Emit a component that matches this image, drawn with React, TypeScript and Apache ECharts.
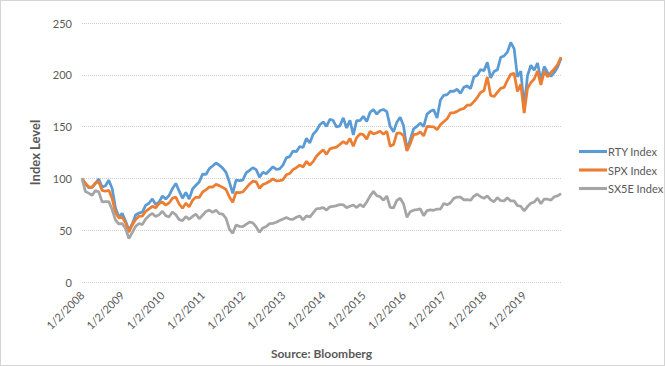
import React, { useEffect, useRef } from "react";
import * as echarts from "echarts";

const years = [2008, 2009, 2010, 2011, 2012, 2013, 2014, 2015, 2016, 2017, 2018, 2019];

const seriesNames = ["RTY Index", "SPX Index", "SX5E Index"];
const seriesColors = ["#5B9BD5", "#ED7D31", "#A5A5A5"];

// monthly readings, one row per year (12 values each)
const rty = [
  100, 94.7, 91.1, 91.4, 95.0, 99.5, 91.6, 92.9, 98.2, 90.2, 71.4, 62.8,
  66.3, 58.9, 50.0, 56.1, 64.7, 66.6, 67.5, 73.9, 76.0, 80.2, 74.7, 77.0,
  83.1, 80.0, 83.5, 90.1, 95.2, 87.9, 80.9, 86.4, 80.0, 89.8, 93.4, 96.5,
  104.1, 103.8, 109.4, 112.0, 114.9, 112.7, 109.9, 105.8, 96.5, 85.5, 98.4, 97.9,
  98.4, 105.3, 107.7, 110.3, 108.5, 101.2, 106.0, 104.5, 107.8, 111.2, 108.7, 109.2,
  112.8, 119.8, 121.0, 126.4, 125.8, 130.7, 129.8, 138.8, 134.2, 142.6, 146.1, 151.8,
  154.5, 150.2, 157.1, 155.8, 149.6, 150.7, 158.4, 148.7, 156.0, 142.0, 155.8, 155.8,
  160.0, 154.8, 163.8, 166.4, 162.0, 165.5, 166.5, 164.5, 150.0, 145.0, 154.3, 159.1,
  150.8, 128.0, 137.3, 147.9, 150.2, 153.4, 150.0, 162.0, 164.7, 166.2, 158.2, 175.6,
  180.2, 180.9, 184.2, 184.1, 186.0, 182.0, 188.0, 189.3, 186.6, 198.0, 199.6, 205.1,
  203.9, 212.0, 197.0, 203.1, 204.8, 216.9, 218.2, 221.9, 231.2, 225.3, 198.0, 203.6,
  168.5, 199.1, 209.2, 204.5, 211.3, 194.6, 208.0, 202.0, 198.5, 202.3, 207.5, 215.7,
];

const spx = [
  100, 95.3, 91.9, 91.4, 95.7, 96.8, 88.4, 87.6, 88.6, 80.6, 66.9, 61.9,
  62.4, 57.1, 48.0, 55.1, 60.3, 63.5, 63.5, 68.2, 70.5, 73.0, 71.6, 75.7,
  77.1, 74.2, 76.3, 80.8, 82.0, 75.3, 71.2, 76.1, 72.5, 78.9, 81.8, 81.6,
  86.9, 88.9, 91.7, 91.6, 94.2, 93.0, 91.3, 89.3, 82.0, 77.0, 86.6, 86.2,
  86.9, 90.7, 94.4, 97.3, 96.6, 90.5, 94.1, 95.3, 97.2, 99.6, 97.6, 97.9,
  98.6, 103.5, 104.7, 108.4, 110.4, 112.7, 111.0, 116.5, 112.8, 116.2, 121.4, 124.8,
  127.7, 123.2, 128.5, 129.4, 130.2, 132.9, 135.5, 133.4, 138.4, 131.0, 139.4, 142.9,
  142.3, 137.9, 145.4, 142.9, 144.1, 145.6, 142.6, 145.4, 131.0, 132.7, 143.7, 143.8,
  141.2, 126.5, 133.5, 142.3, 142.7, 144.9, 141.0, 150.2, 150.0, 149.8, 146.9, 151.9,
  154.7, 157.5, 163.3, 163.3, 164.7, 166.7, 167.5, 170.7, 170.8, 174.1, 178.0, 182.9,
  184.7, 198.0, 180.0, 179.0, 183.0, 186.9, 187.8, 194.6, 200.5, 201.4, 184.0, 190.7,
  163.0, 186.9, 192.4, 195.9, 203.6, 190.2, 203.3, 198.0, 202.2, 205.7, 209.9, 217.0,
];

const sx5e = [
  100, 87.4, 85.8, 83.6, 88.2, 87.1, 77.3, 77.6, 77.6, 70.0, 59.7, 56.0,
  56.4, 51.6, 42.0, 47.7, 53.7, 56.5, 55.4, 60.8, 64.0, 66.2, 63.2, 64.8,
  68.3, 64.0, 62.9, 67.6, 64.9, 60.2, 59.3, 63.2, 60.5, 63.3, 65.6, 61.1,
  64.4, 68.1, 69.4, 67.1, 69.4, 66.0, 65.6, 61.5, 51.0, 47.0, 55.0, 53.7,
  53.4, 55.7, 57.9, 57.1, 53.2, 48.0, 52.2, 53.6, 56.3, 56.6, 57.7, 59.4,
  60.7, 62.3, 60.7, 60.5, 62.5, 63.8, 60.0, 63.8, 62.7, 66.7, 70.7, 71.1,
  71.7, 69.5, 72.6, 72.9, 73.7, 74.8, 74.4, 71.8, 73.1, 74.3, 71.8, 74.9,
  72.5, 77.2, 82.9, 87.5, 83.3, 82.3, 78.9, 83.0, 72.0, 71.5, 78.8, 80.8,
  75.3, 62.5, 67.9, 69.3, 69.8, 70.6, 64.0, 68.9, 69.7, 69.2, 70.4, 70.3,
  75.8, 74.5, 76.5, 80.7, 82.0, 81.9, 79.3, 79.5, 78.9, 82.8, 84.7, 82.3,
  80.8, 83.2, 79.3, 77.5, 81.5, 78.5, 78.3, 81.2, 78.2, 78.3, 73.7, 73.1,
  68.5, 72.8, 76.0, 77.2, 81.0, 75.6, 80.1, 79.9, 79.0, 82.3, 83.1, 85.4,
];

const yTicks = { min: 0, max: 250, interval: 50 };

const categories: string[] = [];
years.forEach((y) => {
  for (let m = 1; m <= 12; m++) {
    categories.push(m === 1 ? `1/2/${y}` : `${m}/1/${y}`);
  }
});

const FONT = "Lato";
const TEXT = "#595959";
const LEGEND_ICON = "path://M0,0L27,0L27,3L0,3Z";

export default function App() {
  const ref = useRef<HTMLDivElement>(null);
  useEffect(() => {
    document.body.style.margin = "0";
    const chart = echarts.init(ref.current!, null, { renderer: "svg" });
    const data = [rty, spx, sx5e];
    chart.setOption({
      animation: false,
      backgroundColor: "#ffffff",
      textStyle: { fontFamily: FONT },
      grid: { left: 81, right: 103, top: 22, bottom: 83 },
      legend: {
        orient: "vertical",
        left: 573,
        top: 140,
        itemWidth: 28,
        itemHeight: 14,
        itemGap: 7.5,
        symbolKeepAspect: true,
        data: seriesNames.map((n) => ({ name: n, icon: LEGEND_ICON })),
        textStyle: { color: TEXT, fontSize: 11, fontFamily: FONT, padding: [0, 0, 0, -4] },
      },
      xAxis: {
        type: "category",
        data: categories,
        boundaryGap: false,
        name: "Source: Bloomberg",
        nameLocation: "middle",
        nameGap: 65,
        nameTextStyle: { color: TEXT, fontSize: 12, fontWeight: "bold", fontFamily: FONT },
        axisLine: { show: false },
        axisTick: { show: false },
        axisLabel: {
          interval: 11,
          rotate: 45,
          color: TEXT,
          fontSize: 11,
          fontFamily: FONT,
          margin: 11,
        },
        splitLine: { show: false },
      },
      yAxis: {
        type: "value",
        min: yTicks.min,
        max: yTicks.max,
        interval: yTicks.interval,
        name: "Index Level",
        nameLocation: "middle",
        nameGap: 38,
        nameTextStyle: { color: TEXT, fontSize: 13, fontWeight: "bold", fontFamily: FONT },
        axisLine: { show: false },
        axisTick: { show: false },
        axisLabel: { color: TEXT, fontSize: 11, fontFamily: FONT, margin: 10 },
        splitLine: { lineStyle: { color: "#d0d0d0", type: "dotted", width: 1 } },
      },
      series: seriesNames.map((name, i) => ({
        name,
        type: "line",
        data: data[i],
        symbol: "none",
        color: seriesColors[i],
        lineStyle: { width: 2.75, color: seriesColors[i] },
        itemStyle: { color: seriesColors[i] },
      })),
    });
    return () => chart.dispose();
  }, []);
  return (
    <div
      style={{
        width: 665,
        height: 366,
        boxSizing: "border-box",
        border: "1px solid #d4d4d4",
        background: "#fff",
      }}
    >
      <div ref={ref} style={{ width: 663, height: 364 }} />
    </div>
  );
}
